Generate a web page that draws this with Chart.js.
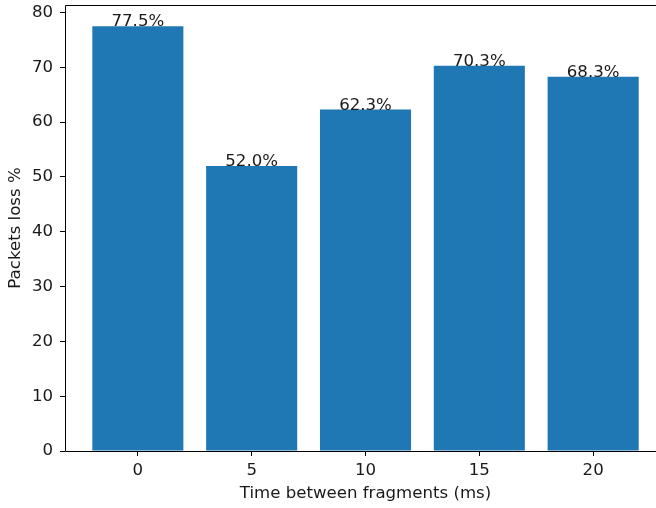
<!DOCTYPE html>
<html>
<head>
<meta charset="utf-8">
<script src="https://cdn.jsdelivr.net/npm/chart.js@4.4.1/dist/chart.umd.min.js"></script>
<style>
    html, body { margin: 0; padding: 0; background: #fff; overflow: hidden; }
    #wrap { width: 700px; height: 508px; }
</style>
</head>
<body>
<div id="wrap"><canvas id="lossChart" width="700" height="508"></canvas></div>
<script>
// ----- DATA -----
const gapTimes = [0, 5, 10, 15, 20];          // ms between fragments
const lossPercent = [77.5, 52.0, 62.3, 70.3, 68.3];
const xTickValues = [0, 5, 10, 15, 20];
const yTickValues = [0, 10, 20, 30, 40, 50, 60, 70, 80];

const FONT = { family: 'DejaVu Sans', size: 16.6 };
const TEXT_COLOR = '#1a1a1a';

// spines: left, top and bottom edges of the plot area
const frameBox = {
    id: 'frameBox',
    afterDraw(chart) {
        const { ctx, chartArea: a } = chart;
        const l = Math.round(a.left) + 0.5, t = Math.round(a.top) + 0.5;
        const r = Math.round(a.right) + 0.5, b = Math.round(a.bottom) + 0.5;
        ctx.save();
        ctx.strokeStyle = '#000';
        ctx.lineWidth = 1;
        ctx.beginPath();
        ctx.moveTo(r, t);
        ctx.lineTo(l, t);
        ctx.lineTo(l, b);
        ctx.lineTo(r, b);
        ctx.lineTo(r, t);
        ctx.stroke();
        ctx.restore();
    }
};

// percentage text sitting on each bar
const barValues = {
    id: 'barValues',
    afterDatasetsDraw(chart) {
        const { ctx } = chart;
        const meta = chart.getDatasetMeta(0);
        ctx.save();
        ctx.font = `${FONT.size}px "${FONT.family}"`;
        ctx.fillStyle = TEXT_COLOR;
        ctx.textAlign = 'center';
        ctx.textBaseline = 'alphabetic';
        meta.data.forEach((bar, i) => {
            ctx.fillText(lossPercent[i].toFixed(1) + '%', bar.x, bar.y);
        });
        ctx.restore();
    }
};

const points = gapTimes.map((t, i) => ({ x: t, y: lossPercent[i] }));

new Chart(document.getElementById('lossChart'), {
    type: 'bar',
    data: {
        datasets: [{
            data: points,
            backgroundColor: '#1f77b4',
            borderWidth: 0,
            barPercentage: 0.8,
            categoryPercentage: 1.0
        }]
    },
    options: {
        responsive: false,
        animation: false,
        layout: { padding: { top: 5, right: 34, left: 0, bottom: 0 } },
        plugins: { legend: { display: false }, tooltip: { enabled: false } },
        scales: {
            x: {
                type: 'linear',
                min: -3.2,
                max: 23.2,
                offset: false,
                afterFit(scale) {
                    scale.height = 57;
                    scale.paddingLeft = 0;
                    scale.paddingRight = 0;
                },
                afterBuildTicks(scale) { scale.ticks = xTickValues.map(v => ({ value: v })); },
                ticks: { font: FONT, color: TEXT_COLOR, padding: 5, maxRotation: 0 },
                grid: { offset: false, drawOnChartArea: false, tickLength: 5, tickColor: '#000' },
                border: { display: false },
                title: { display: true, text: 'Time between fragments (ms)', font: FONT, color: TEXT_COLOR, padding: { top: 0, bottom: 4 } }
            },
            y: {
                min: 0,
                max: 81.375,
                afterFit(scale) {
                    scale.width = 65;
                    scale.paddingTop = 0;
                    scale.paddingBottom = 0;
                },
                afterBuildTicks(scale) { scale.ticks = yTickValues.map(v => ({ value: v })); },
                ticks: { font: FONT, color: TEXT_COLOR, padding: 7 },
                grid: { drawOnChartArea: false, tickLength: 5, tickColor: '#000' },
                border: { display: false },
                title: { display: true, text: 'Packets loss %', font: FONT, color: TEXT_COLOR, padding: { top: 6, bottom: 0 } }
            }
        }
    },
    plugins: [frameBox, barValues]
});
</script>
</body>
</html>
